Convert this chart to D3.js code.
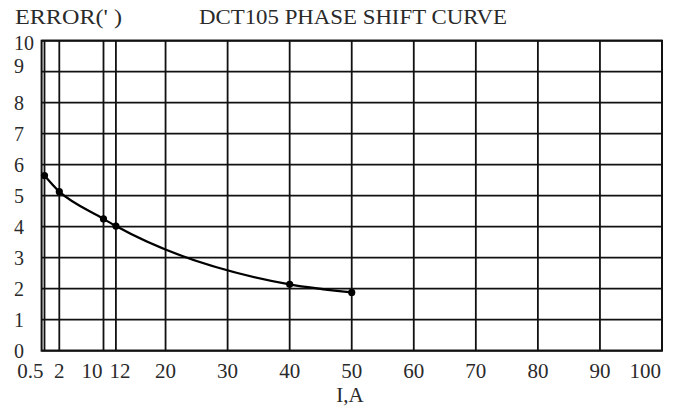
<!DOCTYPE html>
<html><head><meta charset="utf-8">
<script src="https://cdn.jsdelivr.net/npm/d3@7"></script>
<style>
html,body{margin:0;padding:0;background:#fff;}
</style></head>
<body><svg id="c" width="679" height="410"></svg>
<script>
// Data
const currentA = [0.5, 2, 10, 12, 40, 50];
const errorMin = [5.65, 5.13, 4.25, 4.02, 2.14, 1.88];
const xTickValues = [0.5, 2, 10, 12, 20, 30, 40, 50, 60, 70, 80, 90, 100];
const xTickLabels = ["0.5", "2", "10", "12", "20", "30", "40", "50", "60", "70", "80", "90", "100"];
const yTickValues = [0,1,2,3,4,5,6,7,8,9,10];
const yTickLabels = ["0","1","2","3","4","5","6","7","8","9","10"];
const titleText = "DCT105 PHASE SHIFT CURVE";
const yTitle = "ERROR(' )";
const xTitle = "I,A";

const FONT = "'Liberation Serif', 'DejaVu Serif', serif";
const svg = d3.select("#c");
const L = 41.6, R = 662, T = 40.7, B = 350.7;
// piecewise-linear axis as in the original drawing
const x = d3.scaleLinear().domain([0, 0.5, 2, 10, 100]).range([L, 44.5, 59.3, 103.5, R]);
const y = d3.scaleLinear().domain([0, 10]).range([B, T]);

const g = svg.append("g");
g.selectAll("line.v").data(xTickValues).enter().append("line")
  .attr("x1", d => x(d)).attr("x2", d => x(d)).attr("y1", T).attr("y2", B)
  .attr("stroke", "#111").attr("stroke-width", 1.8);
g.selectAll("line.h").data(yTickValues).enter().append("line")
  .attr("x1", L).attr("x2", R).attr("y1", d => y(d)).attr("y2", d => y(d))
  .attr("stroke", "#111").attr("stroke-width", 1.8);
g.append("rect").attr("x", L).attr("y", T).attr("width", R - L).attr("height", B - T)
  .attr("fill", "none").attr("stroke", "#111").attr("stroke-width", 2);

const line = d3.line().x(d => x(d[0])).y(d => y(d[1])).curve(d3.curveCatmullRom.alpha(1));
const pts = currentA.map((d, i) => [d, errorMin[i]]);
g.append("path").attr("d", line(pts)).attr("fill", "none").attr("stroke", "#000").attr("stroke-width", 2.2);
g.selectAll("circle").data(pts).enter().append("circle")
  .attr("cx", d => x(d[0])).attr("cy", d => y(d[1])).attr("r", 3.6).attr("fill", "#000");

const txt = (sel) => sel.attr("font-family", FONT).attr("fill", "#2a2a2a");

const yAdj = {10: 2, 9: -6};
svg.selectAll("text.yl").data(yTickValues).enter().append("text")
  .attr("x", 14).attr("y", d => y(d) + 7 + (yAdj[d] || 0))
  .attr("font-size", 20).call(txt).text((d, i) => yTickLabels[i]);

const xAnchor = {0.5: "end", 10: "end", 100: "end"};
const xShift = {0.5: -1, 10: -1, 12: 4, 100: -1};
svg.selectAll("text.xl").data(xTickValues).enter().append("text")
  .attr("x", d => x(d) + (xShift[d] || 0)).attr("y", 378)
  .attr("text-anchor", d => xAnchor[d] || "middle")
  .attr("font-size", 21).call(txt).text((d, i) => xTickLabels[i]);

svg.append("text").attr("x", 350).attr("y", 402).attr("text-anchor", "middle").attr("font-size", 21).call(txt).text(xTitle);
svg.append("text").attr("x", 15).attr("y", 24).attr("font-size", 21).attr("textLength", 107).attr("lengthAdjust", "spacingAndGlyphs").call(txt).text(yTitle);
svg.append("text").attr("x", 199).attr("y", 24).attr("font-size", 21).attr("textLength", 308).attr("lengthAdjust", "spacingAndGlyphs").call(txt).text(titleText);
</script></body></html>
